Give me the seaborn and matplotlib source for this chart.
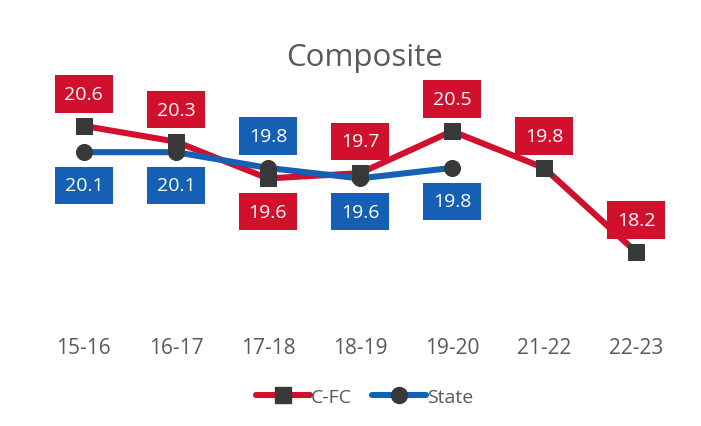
import numpy as np
import pandas as pd
import matplotlib
matplotlib.use("Agg")
import matplotlib.pyplot as plt
import seaborn as sns
from matplotlib.lines import Line2D

years = ["15-16", "16-17", "17-18", "18-19", "19-20", "21-22", "22-23"]
cfc = [20.6, 20.3, 19.6, 19.7, 20.5, 19.8, 18.2]
state = [20.1, 20.1, 19.8, 19.6, 19.8, np.nan, np.nan]
cfc_label_pos = ["above", "above", "below", "above", "above", "above", "above"]
state_label_pos = ["below", "below", "above", "below", "below", None, None]

RED = "#D0102C"
BLUE = "#1560B4"
MARK = "#383838"
GRAY = "#595959"

sns.set_theme(style="white")
plt.rcParams["font.family"] = ["Open Sans", "DejaVu Sans"]

df = pd.DataFrame({
    "idx": list(range(len(years))) * 2,
    "value": cfc + state,
    "series": ["C-FC"] * len(years) + ["State"] * len(years),
}).dropna()

fig = plt.figure(figsize=(7.01, 4.27), dpi=100)
ax = fig.add_axes([0.054, 0.26, 0.919, 0.615])

LW = 4.4
MS = 11.5
sns.lineplot(data=df, x="idx", y="value", hue="series", style="series",
             palette={"C-FC": RED, "State": BLUE},
             markers={"C-FC": "s", "State": "o"}, dashes=False,
             linewidth=LW, markersize=MS, markerfacecolor=MARK,
             markeredgecolor=MARK, legend=False, ax=ax, sort=False)

def labels(vals, poss, color):
    for i, (v, p) in enumerate(zip(vals, poss)):
        if p is None or np.isnan(v):
            continue
        off = 23 if p == "above" else -24
        ax.annotate(f"{v:.1f}", (i, v), xytext=(0, off), textcoords="offset points",
                    ha="center", va="center", color="white", fontsize=14,
                    bbox=dict(boxstyle="square,pad=0.5", fc=color, ec="none"))

labels(cfc, cfc_label_pos, RED)
labels(state, state_label_pos, BLUE)

ax.set_xlim(-0.5, len(years) - 0.5)
ax.set_ylim(17.0, 22.0)
ax.set_xticks(range(len(years)))
ax.set_xticklabels(years, color=GRAY, fontsize=15)
ax.set_yticks([])
ax.set_xlabel("")
ax.set_ylabel("")
ax.tick_params(axis="x", length=0, pad=16)
for s in ax.spines.values():
    s.set_visible(False)

fig.text(0.52, 0.865, "Composite", ha="center", va="center", fontsize=22.5, color=GRAY)

handles = [
    Line2D([], [], color=RED, lw=LW, marker="s", markersize=MS,
           markerfacecolor=MARK, markeredgecolor=MARK),
    Line2D([], [], color=BLUE, lw=LW, marker="o", markersize=MS,
           markerfacecolor=MARK, markeredgecolor=MARK),
]
fig.legend(handles, ["C-FC", "State"], loc="center", bbox_to_anchor=(0.52, 0.068),
           ncol=2, frameon=False, handlelength=2.8, handletextpad=0.05,
           columnspacing=1.0, fontsize=14, labelcolor=GRAY)

fig.savefig("out.png", dpi=100, facecolor="white")
